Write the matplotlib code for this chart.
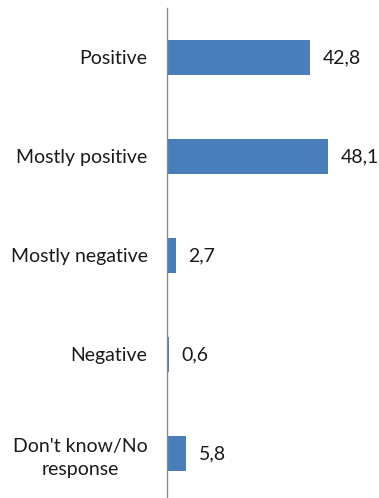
"""Horizontal bar chart of survey response shares."""

import matplotlib

matplotlib.use("Agg")

import matplotlib.pyplot as plt

categories = ["Positive", "Mostly positive", "Mostly negative", "Negative",
              "Don't know/No\nresponse"]
values = [42.8, 48.1, 2.7, 0.6, 5.8]
value_labels = ["42,8", "48,1", "2,7", "0,6", "5,8"]

BAR_COLOR = "#4A7EBB"

plt.rcParams["font.family"] = ["Lato", "DejaVu Sans"]

fig = plt.figure(figsize=(3.79, 4.98), dpi=100)
ax = fig.add_axes([0.4406, -0.01, 0.53, 0.994])

positions = list(range(len(categories)))
bars = ax.barh(positions, values, height=0.35, color=BAR_COLOR)

ax.set_ylim(len(categories) - 0.5, -0.5)
ax.set_xlim(0, 60)
ax.set_yticks(positions)
ax.set_yticklabels(categories, fontsize=14, color="#1a1a1a",
                   multialignment="center", linespacing=1.4)
ax.tick_params(axis="y", length=0, pad=14)
ax.set_xticks([])

for spine in ("top", "right", "bottom"):
    ax.spines[spine].set_visible(False)
ax.spines["left"].set_color("#8c8c8c")
ax.spines["left"].set_linewidth(1.0)

for bar, label in zip(bars, value_labels):
    ax.annotate(label, (bar.get_width(), bar.get_y() + bar.get_height() / 2),
                xytext=(9, 0), textcoords="offset points",
                va="center", ha="left", fontsize=14, color="#1a1a1a")

fig.savefig("out.png", dpi=100)
